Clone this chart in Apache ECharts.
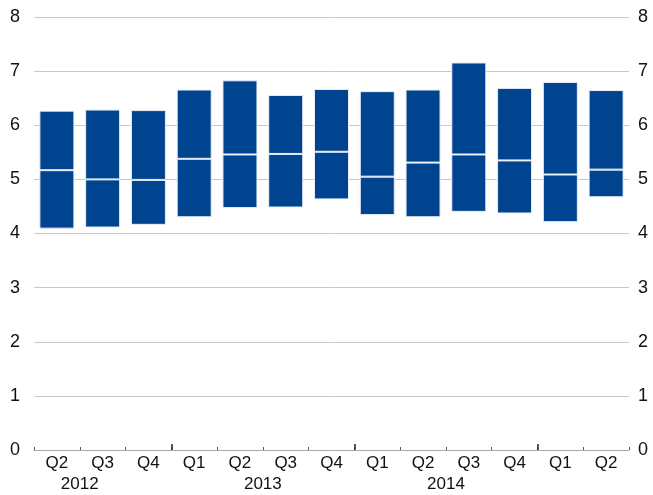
<!DOCTYPE html>
<html><head><meta charset="utf-8">
<script src="https://cdn.jsdelivr.net/npm/echarts@6/dist/echarts.min.js"></script>
<style>html,body{margin:0;padding:0;background:#fff}#c{width:653px;height:495px}</style>
</head><body><div id="c"></div>
<script>
var quarters = ['Q2','Q3','Q4','Q1','Q2','Q3','Q4','Q1','Q2','Q3','Q4','Q1','Q2'];
var quarterYears = ['2012','2012','2012','2013','2013','2013','2013','2014','2014','2014','2014','2015','2015'];
var yearLabels = ['2012','2013','2014'];
var lowValues    = [4.09,4.11,4.16,4.30,4.47,4.48,4.63,4.34,4.30,4.40,4.37,4.21,4.67];
var medianValues = [5.17,5.00,4.99,5.38,5.46,5.47,5.51,5.05,5.31,5.46,5.35,5.09,5.18];
var highValues   = [6.27,6.29,6.28,6.66,6.83,6.56,6.67,6.63,6.66,7.16,6.69,6.80,6.65];

// Year axis: half-step positions from -0.5 to n-0.5
var n = quarters.length;
var yearAxisData = [];
for (var k = 0; k <= 2*n; k++) yearAxisData.push('');
var majorTickIdx = {};
yearLabels.forEach(function(y){
  var i = quarterYears.indexOf(y);
  var qn = parseInt(quarters[i].slice(1),10);
  var q1 = i - (qn - 1);           // virtual index of Q1
  var center = q1 + 1.5;           // category position of year centre
  yearAxisData[Math.round((center + 0.5) * 2)] = y;
});
for (var i = 1; i < n; i++) {
  if (quarterYears[i] !== quarterYears[i-1]) majorTickIdx[2*i] = true;
}

var font = 'Liberation Sans, Arial, sans-serif';
var blue = '#00438f';
var chart = echarts.init(document.getElementById('c'));
chart.setOption({
  animation: false,
  grid: {left: 34, right: 24, top: 17, bottom: 45},
  xAxis: [{
    type: 'category', data: quarters,
    axisLine: {lineStyle: {color: '#aaa', width: 1}},
    axisTick: {show: true, inside: true, length: 3, interval: 0, lineStyle: {color: '#555'}},
    axisLabel: {color: '#111', fontSize: 17, fontFamily: font, margin: 5, interval: 0}
  }, {
    type: 'category', data: yearAxisData, boundaryGap: false, position: 'bottom',
    axisLine: {show: false},
    axisTick: {show: true, inside: true, length: 6, lineStyle: {color: '#222', width: 1.5},
      interval: function(idx){ return !!majorTickIdx[idx]; }},
    axisLabel: {color: '#111', fontSize: 17, fontFamily: font, margin: 26, interval: 0}
  }],
  yAxis: [{
    type: 'value', min: 0, max: 8, interval: 1, position: 'left',
    axisLine: {show: false}, axisTick: {show: false},
    splitLine: {lineStyle: {color: '#c8c8c8', width: 1}},
    axisLabel: {color: '#111', fontSize: 18, fontFamily: font, margin: 14}
  }, {
    type: 'value', min: 0, max: 8, interval: 1, position: 'right',
    axisLine: {show: false}, axisTick: {show: false}, splitLine: {show: false},
    axisLabel: {color: '#111', fontSize: 18, fontFamily: font, margin: 9}
  }],
  series: [{
    type: 'bar', stack: 'r', barWidth: 35, data: lowValues,
    itemStyle: {color: 'transparent'}, silent: true
  }, {
    type: 'bar', stack: 'r', barWidth: 35,
    data: medianValues.map(function(m,i){ return +(m - lowValues[i]).toFixed(3); }),
    itemStyle: {color: blue, borderColor: '#e8eef6', borderWidth: 1}
  }, {
    type: 'bar', stack: 'r', barWidth: 35,
    data: highValues.map(function(h,i){ return +(h - medianValues[i]).toFixed(3); }),
    itemStyle: {color: blue, borderColor: '#e8eef6', borderWidth: 1}
  }]
});
</script></body></html>
